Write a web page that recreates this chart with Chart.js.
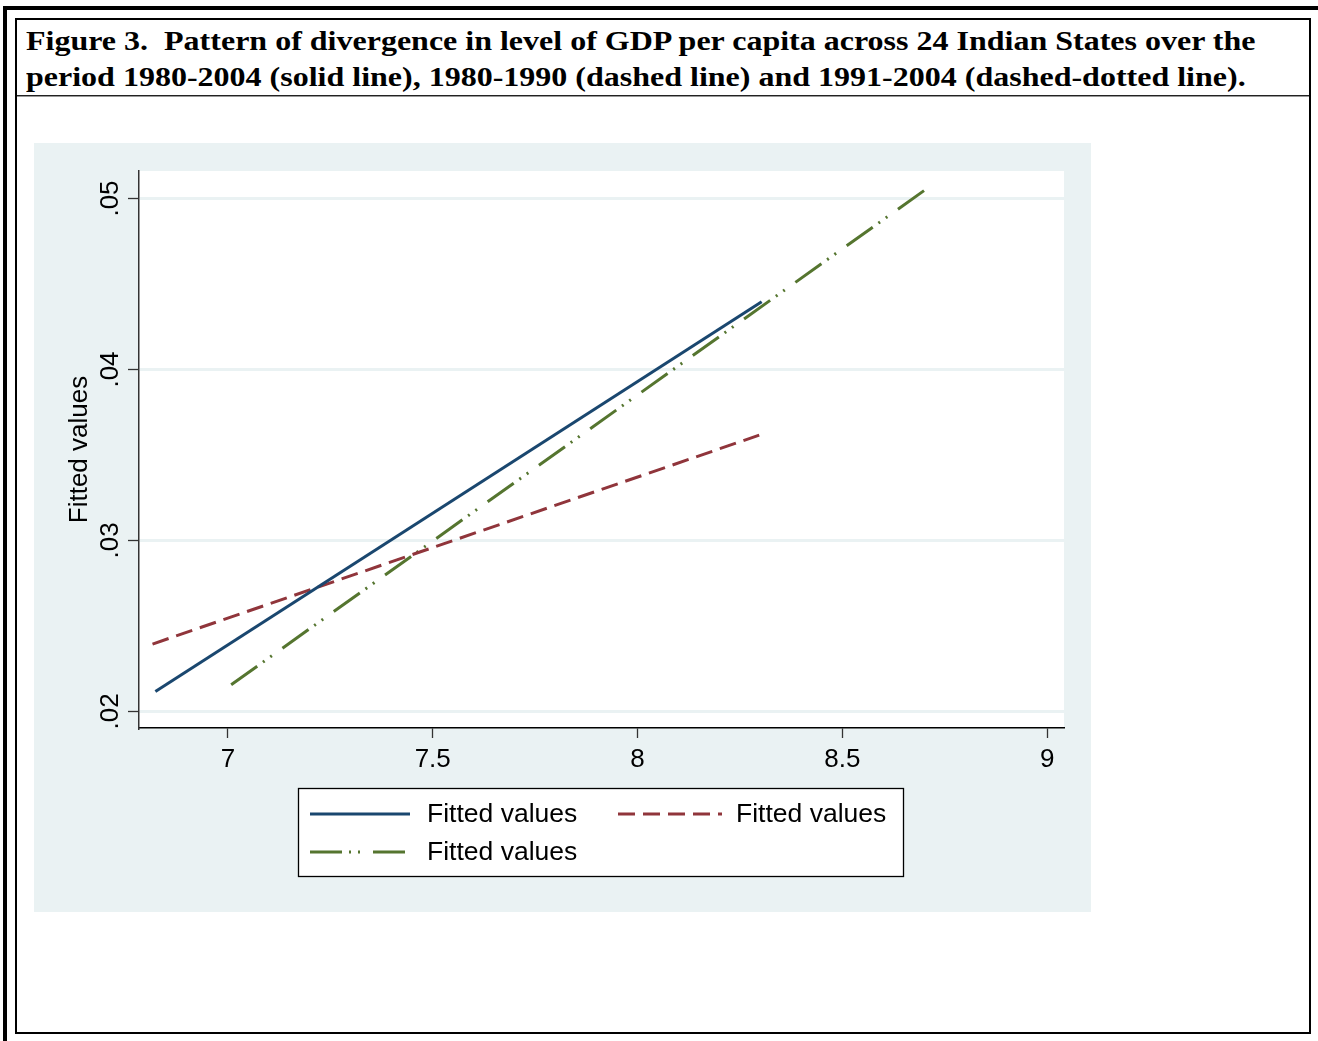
<!DOCTYPE html>
<html lang="en">
<head>
  <meta charset="UTF-8">
  <title>Figure 3 - Divergence in GDP per capita</title>
  <script src="https://cdn.jsdelivr.net/npm/chart.js"></script>
  <style>
    body {
      margin: 0;
      width: 1318px;
      height: 1041px;
      background: #fff;
      position: relative;
      overflow: hidden;
    }

    .rule-top {
      position: absolute;
      left: 3px; top: 6px;
      width: 1315px; height: 4px;
      background: #000;
    }

    .rule-left {
      position: absolute;
      left: 3px; top: 6px;
      width: 4px; height: 1035px;
      background: #000;
    }

    .frame {
      position: absolute;
      left: 15px; top: 18px;
      width: 1296px; height: 1016px;
      border: 2px solid #000;
      box-sizing: border-box;
    }

    /* the caption font is wide but short in the source, hence the squash */
    .caption {
      position: absolute;
      left: 26px; top: 22.5px;
      font-family: 'Liberation Serif', 'Times New Roman', serif;
      font-weight: bold;
      font-size: 32px;
      line-height: 41.1px;
      color: #000;
      white-space: nowrap;
      transform: scaleY(0.875);
      transform-origin: 0 0;
    }

    .sep1, .sep2 {
      position: absolute;
      left: 17px;
      width: 1292px;
      height: 1px;
    }
    .sep1 { top: 95px; background: #222; }
    .sep2 { top: 96px; background: #999; }

    .graph {
      position: absolute;
      left: 34px; top: 143px;
      width: 1057px; height: 769px;
    }
  </style>
</head>
<body>

  <div class="rule-top"></div>
  <div class="rule-left"></div>
  <div class="frame"></div>
  <div class="caption">Figure 3.&nbsp; Pattern of divergence in level of GDP per capita across 24 Indian States over the<br>period 1980-2004 (solid line), 1980-1990 (dashed line) and 1991-2004 (dashed-dotted line).</div>
  <div class="sep1"></div>
  <div class="sep2"></div>

  <div class="graph">
    <canvas id="fig"></canvas>
  </div>

  <script>
    // fitted lines (log GDP per capita vs fitted growth), endpoints
    const fullX = [6.823, 8.303];
    const fullY = [0.02117, 0.04396];
    const earlyX = [6.816, 8.297];
    const earlyY = [0.02394, 0.03616];
    const lateX = [7.008, 8.712];
    const lateY = [0.02156, 0.05068];

    const xTicks = [7, 7.5, 8, 8.5, 9];
    const xTickLabels = ['7', '7.5', '8', '8.5', '9'];
    const yTicks = [0.02, 0.03, 0.04, 0.05];
    const yTickLabels = ['.02', '.03', '.04', '.05'];
    const legendLabels = ['Fitted values', 'Fitted values', 'Fitted values'];
    const yTitle = 'Fitted values';

    const font = "'Liberation Sans', Arial, sans-serif";

    const pts = (xs, ys) => xs.map((x, i) => ({ x: x, y: ys[i] }));

    // stata-like background: bluish gray graph region, white plot region
    const backdrop = {
      id: 'backdrop',
      beforeDraw(chart) {
        const { ctx, chartArea: a } = chart;
        ctx.save();
        ctx.fillStyle = '#eaf2f3';
        ctx.fillRect(0, 0, chart.width, chart.height);
        ctx.fillStyle = '#ffffff';
        ctx.fillRect(a.left, a.top, a.right - a.left, a.bottom - a.top);
        ctx.restore();
      }
    };

    // rotated y labels, y title and the boxed legend
    const extras = {
      id: 'extras',
      afterDraw(chart) {
        const { ctx, chartArea: a } = chart;
        const ys = chart.scales.y;
        ctx.save();
        ctx.fillStyle = '#000';
        ctx.font = '26px ' + font;
        ctx.textAlign = 'center';
        ctx.textBaseline = 'alphabetic';

        yTicks.forEach((v, i) => {
          ctx.save();
          ctx.translate(83.5, ys.getPixelForValue(v));
          ctx.rotate(-Math.PI / 2);
          ctx.fillText(yTickLabels[i], 0, 0);
          ctx.restore();
        });

        ctx.save();
        ctx.translate(53, (a.top + a.bottom) / 2);
        ctx.rotate(-Math.PI / 2);
        ctx.fillText(yTitle, 0, 0);
        ctx.restore();

        // legend box
        const box = { x: 264.5, y: 645.5, w: 605, h: 88 };
        ctx.fillStyle = '#fff';
        ctx.fillRect(box.x, box.y, box.w, box.h);
        ctx.strokeStyle = '#000';
        ctx.lineWidth = 1.3;
        ctx.strokeRect(box.x, box.y, box.w, box.h);

        const slots = [
          { x1: 276, x2: 376, tx: 393, y: 671 },
          { x1: 584, x2: 688, tx: 702, y: 671 },
          { x1: 276, x2: 372, tx: 393, y: 709 }
        ];
        ctx.font = '26.5px ' + font;
        chart.data.datasets.forEach((ds, i) => {
          const s = slots[i];
          ctx.save();
          ctx.strokeStyle = ds.borderColor;
          ctx.lineWidth = ds.borderWidth;
          ctx.setLineDash(ds.borderDash || []);
          ctx.beginPath();
          ctx.moveTo(s.x1, s.y);
          ctx.lineTo(s.x2, s.y);
          ctx.stroke();
          ctx.restore();
          ctx.fillStyle = '#000';
          ctx.textAlign = 'left';
          ctx.textBaseline = 'middle';
          ctx.fillText(legendLabels[i], s.tx, s.y + 1);
        });
        ctx.restore();
      }
    };

    new Chart(document.getElementById('fig'), {
      type: 'scatter',
      data: {
        datasets: [
          { data: pts(fullX, fullY), borderColor: '#1a476f', borderWidth: 3, borderDash: [] },
          { data: pts(earlyX, earlyY), borderColor: '#90353b', borderWidth: 3, borderDash: [17, 8] },
          { data: pts(lateX, lateY), borderColor: '#55752f', borderWidth: 3, borderDash: [32, 7, 2, 7, 2, 13] }
        ].map(d => Object.assign(d, { showLine: true, pointRadius: 0, pointHoverRadius: 0, borderCapStyle: 'butt', fill: false }))
      },
      options: {
        responsive: true,
        maintainAspectRatio: false,
        animation: false,
        layout: { padding: { left: 0, top: 28, right: 27, bottom: 0 } },
        plugins: {
          legend: { display: false },
          tooltip: { enabled: false }
        },
        scales: {
          x: {
            type: 'linear',
            min: 6.783,
            max: 9.041,
            afterBuildTicks: s => { s.ticks = xTicks.map(v => ({ value: v })); },
            afterFit: s => { s.height = 184; },
            ticks: {
              autoSkip: false,
              maxRotation: 0,
              padding: 6,
              color: '#000',
              font: { family: font, size: 26 },
              callback: (v) => xTickLabels[xTicks.indexOf(v)]
            },
            grid: { drawOnChartArea: false, color: '#333', tickColor: '#333', tickLength: 10, tickWidth: 1.3 },
            border: { color: '#000', width: 1.5 }
          },
          y: {
            type: 'linear',
            min: 0.01903,
            max: 0.05161,
            afterBuildTicks: s => { s.ticks = yTicks.map(v => ({ value: v })); },
            afterFit: s => { s.width = 105; },
            ticks: { display: false },
            grid: { color: '#eaf2f3', lineWidth: 3, tickColor: '#333', tickLength: 11, tickWidth: 1.3 },
            border: { color: '#333', width: 1.5 }
          }
        }
      },
      plugins: [backdrop, extras]
    });
  </script>
</body>
</html>
